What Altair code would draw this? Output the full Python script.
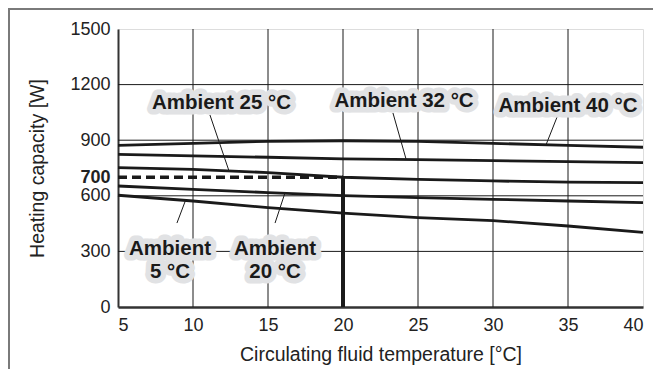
import altair as alt
import pandas as pd

# ---- data ----
temps = [5, 10, 15, 20, 25, 30, 35, 40]
amb40 = [872, 883, 894, 897, 894, 883, 872, 862]
amb32 = [824, 815, 808, 799, 795, 790, 784, 779]
amb25 = [752, 743, 725, 700, 689, 680, 674, 671]
amb20 = [653, 635, 617, 601, 590, 581, 572, 563]
amb5 = [603, 572, 536, 506, 482, 466, 437, 403]
series_names = ["Ambient 40", "Ambient 32", "Ambient 25", "Ambient 20", "Ambient 5"]

x_ticks = [5, 10, 15, 20, 25, 30, 35, 40]
y_ticks = [0, 300, 600, 700, 900, 1200, 1500]
x_grid = [10, 15, 20, 25, 30, 35]
y_grid = [300, 600, 900, 1200]

op_temp = [5, 20]
op_cap = [700, 700]

label_text = ["Ambient 25 °C", "Ambient 32 °C", "Ambient 40 °C", "Ambient\n5 °C", "Ambient\n20 °C"]
label_x = [11.9, 24.07, 35.0, 8.47, 15.47]
label_y = [1103, 1114, 1086, 314, 314]
leader_x1 = [11.13, 23.33, 34.27, 8.93, 15.47]
leader_y1 = [1036, 1047, 1025, 453, 453]
leader_x2 = [12.4, 24.2, 33.53, 9.5, 16.13]
leader_y2 = [734, 799, 874, 575, 615]

BG = "#e1e2e4"
INK = "#1a1a1a"
FONT = "Liberation Sans"

rows = []
for name, vals in zip(series_names, [amb40, amb32, amb25, amb20, amb5]):
    for t, v in zip(temps, vals):
        rows.append({"temp": t, "cap": v, "series": name})
lines_df = pd.DataFrame(rows)

xs = alt.Scale(domain=[5, 40], nice=False, zero=False)
ys = alt.Scale(domain=[0, 1500], nice=False)

xgrid = alt.Chart(pd.DataFrame({"g": x_grid})).mark_rule(color=INK, strokeWidth=1).encode(
    x=alt.X("g:Q", scale=xs)
)
ygrid = alt.Chart(pd.DataFrame({"g": y_grid})).mark_rule(color=INK, strokeWidth=1).encode(
    y=alt.Y("g:Q", scale=ys)
)

base_axes = alt.Chart(lines_df).mark_line(color=INK, strokeWidth=2.8).encode(
    x=alt.X("temp:Q", scale=xs,
            axis=alt.Axis(values=x_ticks, title="Circulating fluid temperature [°C]", format="d",
                          grid=False, ticks=False, labelFontSize=18, labelPadding=9,
                          labelColor="#222", titleFontSize=19.5, titleFontWeight="normal",
                          titleColor="#222", titlePadding=11, domainColor="#333",
                          domainWidth=2.5, labelFont=FONT, titleFont=FONT)),
    y=alt.Y("cap:Q", scale=ys,
            axis=alt.Axis(values=y_ticks, title="Heating capacity [W]", format="d",
                          grid=False, ticks=False, labelFontSize=18, labelPadding=8,
                          labelColor="#222",
                          labelFontWeight=alt.condition("datum.value == 700", alt.value("bold"), alt.value("normal")),
                          titleFontSize=19.5, titleFontWeight="normal", titleColor="#222",
                          titlePadding=22, domainColor="#333", domainWidth=2,
                          labelFont=FONT, titleFont=FONT)),
    detail="series:N",
)

dashed = alt.Chart(pd.DataFrame({"t": op_temp, "c": op_cap})).mark_line(
    color=INK, strokeWidth=3.5, strokeDash=[9, 5]
).encode(x=alt.X("t:Q", scale=xs), y=alt.Y("c:Q", scale=ys))

vert = alt.Chart(pd.DataFrame({"t": [op_temp[1]], "c0": [0], "c1": [op_cap[1]]})).mark_rule(
    color=INK, strokeWidth=4
).encode(x=alt.X("t:Q", scale=xs), y=alt.Y("c0:Q", scale=ys), y2="c1:Q")

leaders = alt.Chart(pd.DataFrame({"x1": leader_x1, "y1": leader_y1, "x2": leader_x2, "y2": leader_y2})).mark_rule(
    color=INK, strokeWidth=1
).encode(x=alt.X("x1:Q", scale=xs), y=alt.Y("y1:Q", scale=ys), x2="x2:Q", y2="y2:Q")

lab_df = pd.DataFrame({"x": label_x, "y": label_y, "text": label_text})
halo = alt.Chart(lab_df).mark_text(
    font=FONT, fontSize=20.5, fontWeight="bold", lineBreak="\n", lineHeight=23,
    align="center", baseline="middle", stroke=BG, strokeWidth=11, strokeJoin="round",
    fill=BG
).encode(x=alt.X("x:Q", scale=xs), y=alt.Y("y:Q", scale=ys), text="text:N")
labels = alt.Chart(lab_df).mark_text(
    font=FONT, fontSize=20.5, fontWeight="bold", lineBreak="\n", lineHeight=23,
    align="center", baseline="middle", fill=INK
).encode(x=alt.X("x:Q", scale=xs), y=alt.Y("y:Q", scale=ys), text="text:N")

one = pd.DataFrame({"a": [0]})
frame_left = alt.Chart(one).mark_rule(color="#7a7a7a", strokeWidth=2).encode(
    x=alt.value(-109), y=alt.value(-20), y2=alt.value(340)
)
frame_top = alt.Chart(one).mark_rule(color="#7a7a7a", strokeWidth=2).encode(
    x=alt.value(-110), x2=alt.value(535), y=alt.value(-20)
)

chart = alt.layer(
    xgrid, ygrid, base_axes, dashed, vert, leaders, halo, labels, frame_left, frame_top
).properties(
    width=525, height=278,
    padding={"left": 110, "top": 21, "right": 10, "bottom": 62},
    autosize=alt.AutoSizeParams(type="none"),
).configure_view(
    fill=BG, stroke="#333", strokeWidth=2
).configure(background="white")

chart.save("out.html", embed_options={"renderer": "svg", "actions": False})
